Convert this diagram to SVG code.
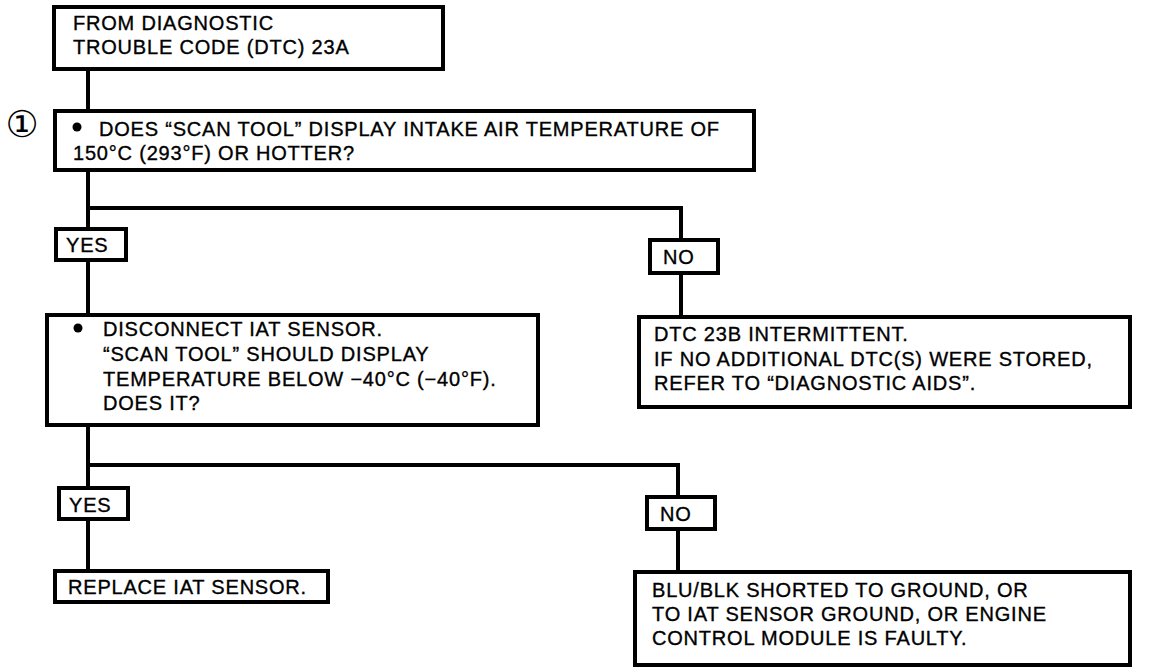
<svg xmlns="http://www.w3.org/2000/svg" width="1152" height="672" viewBox="0 0 1152 672">
<style>
.box{fill:#fff;stroke:#000;stroke-width:4}
.lbl{fill:#fff;stroke:#000;stroke-width:4}
.t{font-family:"Liberation Sans",Arial,sans-serif;font-size:20px;letter-spacing:0.8px;fill:#000;stroke:#000;stroke-width:0.35}
.c{fill:none;stroke:#000;stroke-width:4}
</style>
<rect width="1152" height="672" fill="#fff"/>
<g id="connectors">
<path class="c" d="M88,70 V110"/>
<path class="c" d="M88,170 V313"/>
<path class="c" d="M88,208 H681 V317"/>
<path class="c" d="M88,425 V570"/>
<path class="c" d="M88,465 H678 V572"/>
</g>
<g id="start">
<rect class="box" x="54" y="7" width="389" height="62"/>
<text class="t" x="73" y="30">FROM DIAGNOSTIC</text>
<text class="t" x="73" y="54">TROUBLE CODE (DTC) 23A</text>
</g>
<g id="step1-marker">
<text x="22" y="137" text-anchor="middle" style="font-family:'DejaVu Sans',sans-serif;font-size:37px">①</text>
</g>
<g id="q1">
<rect class="box" x="55" y="111" width="699" height="59"/>
<circle cx="77" cy="127" r="4.5"/>
<text class="t" x="99" y="136">DOES “SCAN TOOL” DISPLAY INTAKE AIR TEMPERATURE OF</text>
<text class="t" x="73" y="160">150°C (293°F) OR HOTTER?</text>
</g>
<g id="yes1">
<rect class="lbl" x="56" y="229" width="70" height="31"/>
<text class="t" x="66" y="252">YES</text>
</g>
<g id="no1">
<rect class="lbl" x="650" y="240" width="68" height="33"/>
<text class="t" x="663" y="264">NO</text>
</g>
<g id="q2">
<rect class="box" x="47" y="315" width="491" height="110"/>
<circle cx="78" cy="328" r="4.5"/>
<text class="t" x="103" y="336">DISCONNECT IAT SENSOR.</text>
<text class="t" x="103" y="361">“SCAN TOOL” SHOULD DISPLAY</text>
<text class="t" x="103" y="386">TEMPERATURE BELOW −40°C (−40°F).</text>
<text class="t" x="103" y="410">DOES IT?</text>
</g>
<g id="intermittent">
<rect class="box" x="639" y="317" width="491" height="90"/>
<text class="t" x="654" y="341">DTC 23B INTERMITTENT.</text>
<text class="t" x="654" y="366">IF NO ADDITIONAL DTC(S) WERE STORED,</text>
<text class="t" x="654" y="390">REFER TO “DIAGNOSTIC AIDS”.</text>
</g>
<g id="yes2">
<rect class="lbl" x="59" y="488" width="69" height="31"/>
<text class="t" x="69" y="512">YES</text>
</g>
<g id="no2">
<rect class="lbl" x="647" y="497" width="68" height="32"/>
<text class="t" x="660" y="521">NO</text>
</g>
<g id="replace">
<rect class="box" x="55" y="571" width="273" height="31"/>
<text class="t" x="68" y="594">REPLACE IAT SENSOR.</text>
</g>
<g id="faulty">
<rect class="box" x="635" y="572" width="495" height="93"/>
<text class="t" x="652" y="597">BLU/BLK SHORTED TO GROUND, OR</text>
<text class="t" x="652" y="621">TO IAT SENSOR GROUND, OR ENGINE</text>
<text class="t" x="652" y="645">CONTROL MODULE IS FAULTY.</text>
</g>
</svg>
